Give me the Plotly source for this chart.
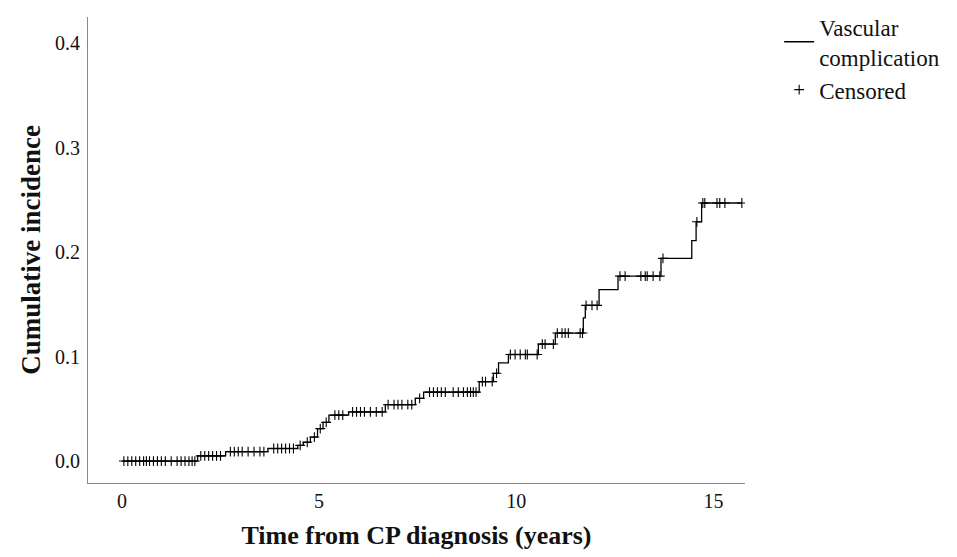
import numpy as np
import plotly.graph_objects as go

# Step-function (cumulative incidence) data
event_times = [0.0, 1.92, 2.63, 3.70, 4.46, 4.60, 4.78, 4.96, 5.10, 5.25, 5.75, 6.68, 7.44, 7.65,
               9.06, 9.42, 9.55, 9.80, 10.56, 10.99, 11.70, 11.75, 12.10, 12.58, 13.67, 14.45,
               14.56, 14.70]
cum_incidence = [0.0, 0.005, 0.009, 0.012, 0.015, 0.018, 0.023, 0.031, 0.037, 0.044, 0.047, 0.054,
                 0.060, 0.066, 0.076, 0.084, 0.094, 0.102, 0.112, 0.1225, 0.137, 0.149, 0.164,
                 0.177, 0.194, 0.211, 0.229, 0.247]
end_time = 15.72

# Censoring times
censored_times = [0.05, 0.15, 0.25, 0.35, 0.45, 0.55, 0.62, 0.70, 0.80, 0.90, 1.00, 1.10, 1.25,
                  1.40, 1.50, 1.60, 1.70, 1.78, 1.85,
                  2.00, 2.10, 2.20, 2.30, 2.40, 2.50,
                  2.75, 2.85, 2.95, 3.05, 3.20, 3.35, 3.50, 3.60,
                  3.85, 3.95, 4.05, 4.15, 4.25, 4.35,
                  4.52, 4.70, 4.88, 5.03, 5.18,
                  5.40, 5.50, 5.60,
                  5.85, 5.95, 6.05, 6.15, 6.30, 6.45, 6.60,
                  6.75, 6.90, 7.00, 7.10, 7.25, 7.35, 7.55,
                  7.80, 7.90, 8.00, 8.10, 8.20, 8.40, 8.53, 8.66, 8.76, 8.84, 8.91, 8.98,
                  9.14, 9.22, 9.39, 9.50,
                  9.85, 9.97, 10.10, 10.23, 10.28, 10.53,
                  10.66, 10.73, 10.94,
                  11.04, 11.16, 11.24, 11.32, 11.62, 11.68,
                  11.77, 11.92, 12.05,
                  12.63, 12.76, 13.16, 13.27, 13.32, 13.47, 13.64,
                  13.72, 14.58,
                  14.73, 14.78, 15.09, 15.16, 15.29, 15.72]

x_ticks = [0, 5, 10, 15]
y_ticks = [0.0, 0.1, 0.2, 0.3, 0.4]
y_tick_labels = ["0.0", "0.1", "0.2", "0.3", "0.4"]

ev_t = np.array(event_times)
ev_v = np.array(cum_incidence)
step_x = list(ev_t) + [end_time]
step_y = list(ev_v) + [ev_v[-1]]
idx = np.searchsorted(ev_t, np.array(censored_times), side="right") - 1
cens_y = ev_v[idx]

font_family = "Liberation Serif, Times New Roman, serif"

fig = go.Figure()
fig.add_trace(go.Scatter(
    x=step_x, y=step_y, mode="lines", line=dict(shape="hv", color="black", width=1.3),
    name="Vascular<br>complication", hoverinfo="skip"))
fig.add_trace(go.Scatter(
    x=censored_times, y=cens_y, mode="markers",
    marker=dict(symbol="cross-thin", size=7, line=dict(color="black", width=1.1), color="black"),
    name="Censored", hoverinfo="skip"))

fig.update_layout(
    width=957, height=557,
    margin=dict(l=80, r=220, t=9, b=82, autoexpand=False),
    paper_bgcolor="white", plot_bgcolor="white",
    font=dict(family=font_family, size=20, color="#111111"),
    showlegend=True,
    legend=dict(x=1.052, y=1.025, xanchor="left", yanchor="top",
                font=dict(family=font_family, size=23, color="#111111"),
                bgcolor="rgba(0,0,0,0)", tracegroupgap=0, itemwidth=30),
    xaxis=dict(range=[-0.86, 15.8], tickvals=x_ticks, ticktext=[str(v) for v in x_ticks],
               showgrid=False, zeroline=False, showline=True, linecolor="#888888", linewidth=1.2,
               ticks="", ticklen=0, automargin=False, ticklabelstandoff=0,
               title=dict(text="<b>Time from CP diagnosis (years)</b>",
                          font=dict(family=font_family, size=26, color="#111111"), standoff=14)),
    yaxis=dict(range=[-0.021, 0.425], tickvals=y_ticks, ticktext=y_tick_labels,
               showgrid=False, zeroline=False, showline=True, linecolor="#888888", linewidth=1.2,
               ticks="", ticklen=0, automargin=False, ticklabelstandoff=3,
               title=dict(text="<b>Cumulative incidence</b>",
                          font=dict(family=font_family, size=27, color="#111111"), standoff=6)),
)

fig.write_html("out.html")
